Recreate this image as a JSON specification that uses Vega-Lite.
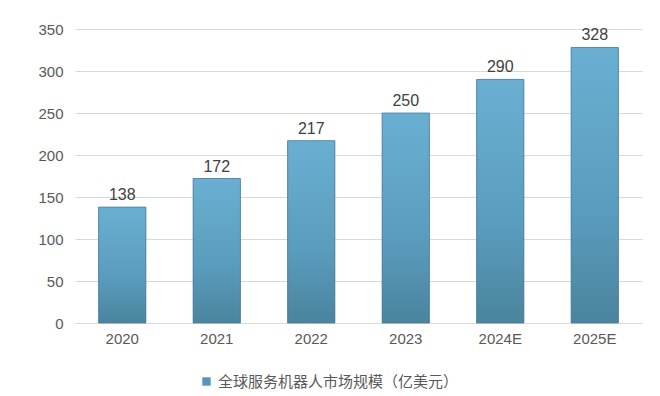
{
  "$schema": "https://vega.github.io/schema/vega-lite/v6.json",
  "autosize": "none",
  "width": 567,
  "height": 294,
  "padding": {"left": 75, "top": 29, "right": 18, "bottom": 73},
  "background": "white",
  "config": {
    "view": {"stroke": null},
    "font": "Liberation Sans"
  },
  "data": {
    "values": [
      {"year": "2020", "value": 138, "series": "全球服务机器人市场规模（亿美元）"},
      {"year": "2021", "value": 172, "series": "全球服务机器人市场规模（亿美元）"},
      {"year": "2022", "value": 217, "series": "全球服务机器人市场规模（亿美元）"},
      {"year": "2023", "value": 250, "series": "全球服务机器人市场规模（亿美元）"},
      {"year": "2024E", "value": 290, "series": "全球服务机器人市场规模（亿美元）"},
      {"year": "2025E", "value": 328, "series": "全球服务机器人市场规模（亿美元）"}
    ]
  },
  "encoding": {
    "x": {
      "field": "year", "type": "nominal", "sort": null,
      "scale": {"paddingInner": 0.5, "paddingOuter": 0.25},
      "axis": {"title": null, "labelAngle": 0, "labelFontSize": 15, "labelColor": "#595959", "labelPadding": 8, "ticks": false, "domainColor": "#d9d9d9", "grid": false}
    },
    "y": {
      "field": "value", "type": "quantitative",
      "scale": {"domain": [0, 350]},
      "axis": {"title": null, "values": [0, 50, 100, 150, 200, 250, 300, 350], "labelFontSize": 15, "labelColor": "#595959", "labelPadding": 12, "ticks": false, "domain": false, "gridColor": "#d9d9d9"}
    }
  },
  "layer": [
    {
      "mark": {"type": "bar"},
      "encoding": {
        "color": {
          "field": "series", "type": "nominal",
          "scale": {"range": ["#4f97bb"]},
          "legend": {
            "title": null, "orient": "none", "legendX": 124, "legendY": 345,
            "symbolType": "square", "symbolSize": 70, "symbolStrokeWidth": 0,
            "labelFontSize": 15, "labelColor": "#595959", "labelFont": "Noto Sans CJK SC", "labelLimit": 400
          }
        }
      }
    },
    {
      "mark": {
        "type": "bar",
        "stroke": "#4a7e97",
        "strokeWidth": 0.8,
        "fill": {
          "gradient": "linear", "x1": 0, "y1": 0, "x2": 0, "y2": 1,
          "stops": [
            {"offset": 0, "color": "#6aafd2"},
            {"offset": 0.6, "color": "#5a9cbd"},
            {"offset": 1, "color": "#4a849e"}
          ]
        }
      },
      "encoding": {}
    },
    {
      "mark": {"type": "text", "dy": -12, "fontSize": 16, "color": "#404040"},
      "encoding": {"text": {"field": "value", "type": "quantitative"}}
    }
  ]
}
